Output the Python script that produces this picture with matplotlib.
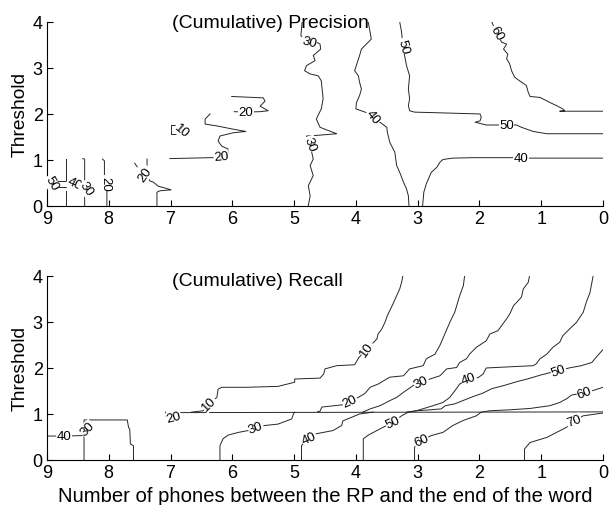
import matplotlib
matplotlib.use("Agg")
import matplotlib.pyplot as plt

plt.rcParams["font.family"] = ["Liberation Sans", "DejaVu Sans"]

# ================================
# Data: contour lines, (phones, threshold)
# ================================

X_TICKS = [9, 8, 7, 6, 5, 4, 3, 2, 1, 0]
Y_TICKS = [0, 1, 2, 3, 4]

# ---- (Cumulative) Precision ----
P_40_A = [(8.70, 1.02), (8.70, 0.54), (9.0, 0.54)]
P_40_B = [(9.0, 0.41), (8.52, 0.41)]
P_40_C = [(8.70, 0.33), (8.70, 0.0)]
P_30_A = [(8.42, 1.03), (8.39, 1.02), (8.39, 0.0)]
P_20_A = [(8.10, 1.02), (8.07, 0.98), (8.07, 0.54), (8.03, 0.40), (8.03, 0.0)]
P_20_B = [(7.38, 1.02), (7.38, 0.89), (7.41, 0.70), (7.33, 0.54), (7.28, 0.52),
          (7.20, 0.43), (7.09, 0.39), (6.99, 0.35), (7.17, 0.33), (7.22, 0.30),
          (7.22, 0.0)]
P_20_B_TAIL = [(7.58, 0.93), (7.54, 0.85)]
P_10 = [(6.86, 1.77), (6.99, 1.77), (6.99, 1.57), (6.86, 1.57)]
P_20_C = [(7.01, 1.03), (6.33, 1.05), (6.18, 1.07), (6.07, 1.16), (6.07, 1.24),
          (6.17, 1.30), (6.23, 1.41), (6.20, 1.52), (5.99, 1.59), (5.78, 1.62),
          (5.99, 1.67), (6.25, 1.74), (6.44, 1.78), (6.44, 1.89), (6.36, 2.0)]
P_20_D = [(6.01, 2.38), (5.50, 2.35), (5.47, 2.28), (5.55, 2.17), (5.42, 2.07),
          (5.55, 2.05), (5.78, 2.04), (5.97, 2.05)]
P_30 = [(4.87, 4.0), (4.89, 3.70), (4.76, 3.57), (4.64, 3.56), (4.58, 3.52),
        (4.57, 3.41), (4.69, 3.27), (4.66, 3.16), (4.80, 3.05), (4.83, 2.94),
        (4.74, 2.87), (4.61, 2.83), (4.56, 2.72), (4.53, 2.33), (4.56, 2.11),
        (4.64, 1.89), (4.58, 1.71), (4.37, 1.60), (4.31, 1.57), (4.58, 1.54),
        (4.80, 1.52), (4.74, 1.35), (4.72, 1.20), (4.69, 1.02), (4.74, 0.88),
        (4.69, 0.66), (4.77, 0.44), (4.74, 0.22), (4.77, 0.0)]
P_40 = [(3.80, 4.0), (3.77, 3.78), (3.75, 3.63), (3.83, 3.52), (3.91, 3.41),
        (3.94, 3.27), (4.02, 2.94), (3.96, 2.83), (3.94, 2.69), (3.91, 2.54),
        (3.94, 2.40), (3.99, 2.25), (4.00, 2.11), (3.85, 2.04), (3.72, 1.93),
        (3.61, 1.82), (3.50, 1.71), (3.49, 1.60), (3.45, 1.38), (3.37, 1.17),
        (3.34, 0.88), (3.29, 0.73), (3.23, 0.52), (3.18, 0.37), (3.15, 0.22),
        (3.14, 0.0)]
P_40_R = [(2.92, 0.0), (2.90, 0.30), (2.86, 0.48), (2.78, 0.73), (2.69, 0.84),
          (2.64, 0.95), (2.59, 1.01), (2.43, 1.04), (2.10, 1.05), (1.46, 1.05),
          (1.33, 1.04), (0.0, 1.04)]
P_50 = [(3.29, 4.0), (3.26, 3.78), (3.24, 3.48), (3.21, 3.26), (3.18, 3.05),
        (3.13, 2.83), (3.15, 2.54), (3.13, 2.33), (3.15, 2.18), (3.13, 2.07),
        (3.05, 2.04), (1.99, 2.0), (1.97, 1.93), (1.99, 1.85), (2.07, 1.82),
        (1.89, 1.76), (1.56, 1.76), (1.40, 1.76), (1.32, 1.71), (1.13, 1.62),
        (0.91, 1.57), (0.0, 1.57)]
P_60 = [(1.80, 4.0), (1.72, 3.76), (1.64, 3.56), (1.56, 3.52), (1.61, 3.41),
        (1.54, 3.30), (1.56, 3.20), (1.51, 3.09), (1.48, 2.94), (1.43, 2.80),
        (1.35, 2.72), (1.24, 2.62), (1.21, 2.47), (1.18, 2.38), (1.02, 2.36),
        (0.86, 2.25), (0.75, 2.18), (0.65, 2.11), (0.62, 2.07), (0.70, 2.06),
        (0.0, 2.06)]

# label text, x, y, rotation
P_LABELS = [("50", 8.93, 0.50, -60), ("40", 8.56, 0.48, -25), ("30", 8.36, 0.38, -55),
            ("20", 8.06, 0.50, -90), ("20", 7.41, 0.70, 55), ("10", 6.82, 1.64, -40),
            ("20", 6.18, 1.07, 5), ("20", 5.78, 2.04, 0), ("30", 4.76, 3.57, -15),
            ("30", 4.74, 1.35, -70), ("40", 3.72, 1.93, -50), ("50", 3.24, 3.48, -75),
            ("50", 1.56, 1.76, 0), ("40", 1.33, 1.04, 0), ("60", 1.72, 3.76, -60)]

# ---- (Cumulative) Recall ----
R_40_L = [(9.0, 0.52), (8.72, 0.52), (8.43, 0.53)]
R_30_L = [(8.40, 0.0), (8.40, 0.87), (7.70, 0.87), (7.68, 0.71), (7.66, 0.67),
          (7.65, 0.35), (7.60, 0.31), (7.60, 0.0)]
R_20_HOOK = [(6.97, 0.93), (7.08, 0.94), (7.08, 1.04)]
R_BASE = [(6.85, 1.03), (0.0, 1.045)]
R_10 = [(6.66, 1.04), (6.47, 1.07), (6.38, 1.22), (6.25, 1.36), (6.23, 1.54),
        (6.17, 1.58), (5.77, 1.58), (5.26, 1.60), (4.99, 1.69), (4.99, 1.76),
        (4.58, 1.78), (4.52, 1.87), (4.50, 1.98), (4.31, 2.05), (4.02, 2.07),
        (3.95, 2.23), (3.82, 2.41), (3.66, 2.63), (3.64, 2.74), (3.58, 2.85),
        (3.53, 2.99), (3.49, 3.14), (3.45, 3.25), (3.40, 3.39), (3.34, 3.57),
        (3.29, 3.72), (3.26, 3.86), (3.24, 4.0)]
R_20 = [(4.62, 1.05), (4.58, 1.06), (4.55, 1.15), (4.21, 1.20), (4.10, 1.28),
        (3.96, 1.36), (3.85, 1.45), (3.77, 1.58), (3.64, 1.65), (3.45, 1.80),
        (3.23, 1.83), (3.13, 1.98), (2.91, 2.05), (2.86, 2.20), (2.72, 2.30),
        (2.64, 2.49), (2.56, 2.74), (2.48, 2.99), (2.40, 3.21), (2.32, 3.57),
        (2.26, 3.79), (2.24, 4.0)]
R_30_LOW = [(6.20, 0.0), (6.20, 0.31), (6.15, 0.46), (6.07, 0.54), (5.90, 0.60),
            (5.74, 0.64), (5.62, 0.70), (5.47, 0.75), (5.26, 0.78), (5.04, 0.89),
            (5.01, 1.00), (4.99, 1.04)]
R_30 = [(3.89, 1.04), (3.77, 1.11), (3.61, 1.18), (3.45, 1.29), (3.34, 1.36),
        (3.23, 1.47), (3.07, 1.62), (2.94, 1.69), (2.80, 1.76), (2.64, 1.83),
        (2.53, 1.98), (2.37, 2.01), (2.32, 2.12), (2.21, 2.20), (2.16, 2.30),
        (2.05, 2.45), (1.97, 2.52), (1.89, 2.59), (1.83, 2.74), (1.70, 2.81),
        (1.62, 2.96), (1.56, 3.07), (1.51, 3.17), (1.45, 3.35), (1.32, 3.54),
        (1.29, 3.72), (1.21, 3.86), (1.19, 4.0)]
R_40_LOW = [(4.88, 0.0), (4.88, 0.31), (4.76, 0.48), (4.64, 0.57), (4.37, 0.64),
            (4.23, 0.75), (4.21, 0.85), (3.94, 1.00), (3.72, 1.04)]
R_40 = [(3.18, 1.04), (3.02, 1.07), (2.75, 1.18), (2.59, 1.25), (2.48, 1.36),
        (2.40, 1.50), (2.32, 1.65), (2.17, 1.76), (2.02, 1.79), (1.94, 1.87),
        (1.89, 2.00), (1.13, 2.05), (1.08, 2.09), (1.02, 2.20), (0.91, 2.30),
        (0.81, 2.45), (0.70, 2.56), (0.65, 2.70), (0.54, 2.85), (0.43, 2.99),
        (0.32, 3.21), (0.27, 3.43), (0.21, 3.64), (0.16, 4.0)]
R_50 = [(3.88, 0.0), (3.88, 0.46), (3.80, 0.54), (3.56, 0.71), (3.40, 0.82),
        (3.26, 0.96), (3.15, 1.04), (3.02, 1.07), (2.80, 1.09), (2.62, 1.11),
        (2.55, 1.18), (2.40, 1.22), (2.25, 1.30), (2.10, 1.38), (1.95, 1.45),
        (1.80, 1.55), (1.60, 1.62), (1.40, 1.70), (1.20, 1.77), (1.00, 1.85),
        (0.85, 1.90), (0.72, 1.94), (0.55, 2.0), (0.35, 2.05), (0.18, 2.12),
        (0.10, 2.25), (0.0, 2.40)]
R_60 = [(3.05, 0.0), (3.05, 0.28), (2.94, 0.42), (2.78, 0.53), (2.59, 0.60),
        (2.43, 0.75), (2.26, 0.86), (2.05, 0.96), (1.97, 1.04), (1.83, 1.07),
        (1.51, 1.09), (1.18, 1.12), (0.86, 1.18), (0.70, 1.25), (0.59, 1.33),
        (0.51, 1.41), (0.30, 1.47), (0.16, 1.51), (0.0, 1.58)]
R_70 = [(1.27, 0.0), (1.27, 0.24), (1.18, 0.38), (0.91, 0.49), (0.75, 0.60),
        (0.59, 0.71), (0.47, 0.85), (0.32, 0.96), (0.0, 1.02)]

R_LABELS = [("40", 8.72, 0.52, 0), ("30", 8.35, 0.68, 45), ("20", 6.95, 0.92, 15),
            ("10", 6.38, 1.22, 45), ("10", 3.82, 2.41, 55), ("20", 4.10, 1.28, 25),
            ("30", 5.62, 0.70, 20), ("30", 2.94, 1.69, 25), ("40", 4.76, 0.48, 25),
            ("40", 2.17, 1.76, 20), ("50", 3.40, 0.82, 25), ("50", 0.72, 1.94, 20),
            ("60", 2.94, 0.42, 25), ("60", 0.30, 1.47, 20), ("70", 0.47, 0.85, 20)]

PREC_LINES = [P_40_A, P_40_B, P_40_C, P_30_A, P_20_A, P_20_B, P_20_B_TAIL, P_10,
              P_20_C, P_20_D, P_30, P_40, P_40_R, P_50, P_60]
REC_LINES = [R_40_L, R_30_L, R_20_HOOK, R_BASE, R_10, R_20, R_30_LOW, R_30,
             R_40_LOW, R_40, R_50, R_60, R_70]


# ================================
# Helper
# ================================


def draw_panel(ax, lines, labels, title, title_x, title_y):
    for line in lines:
        xs = [p[0] for p in line]
        ys = [p[1] for p in line]
        ax.plot(xs, ys, color="0.15", lw=0.7, zorder=2)

    for txt, x, y, rot in labels:
        ax.text(x, y, txt, fontsize=9.5, rotation=rot, ha="center", va="center",
                rotation_mode="anchor", zorder=3,
                bbox=dict(fc="white", ec="none", pad=0.3))

    ax.text(title_x, title_y, title, fontsize=14, ha="center", va="center", zorder=4)

    ax.set_xlim(9, 0)
    ax.set_ylim(0, 4)
    ax.set_xticks(X_TICKS)
    ax.set_yticks(Y_TICKS)
    ax.tick_params(direction="in", length=4, width=0.8, labelsize=13, pad=3)
    ax.spines["top"].set_visible(False)
    ax.spines["right"].set_visible(False)
    ax.spines["left"].set_linewidth(0.8)
    ax.spines["bottom"].set_linewidth(0.8)
    ax.set_ylabel("Threshold", fontsize=13.8, labelpad=3)


# ================================
# Main
# ================================


def main():
    fig = plt.figure(figsize=(6.1, 5.06), dpi=100)
    ax1 = fig.add_axes([0.077, 0.591, 0.9115, 0.3636])
    ax2 = fig.add_axes([0.077, 0.089, 0.9115, 0.3636])

    draw_panel(ax1, PREC_LINES, P_LABELS, "(Cumulative) Precision", 5.38, 3.98)
    draw_panel(ax2, REC_LINES, R_LABELS, "(Cumulative) Recall", 5.59, 3.90)
    ax2.xaxis.set_label_coords(0.537, -0.14)
    ax2.set_xlabel("Number of phones between the RP and the end of the word",
                   fontsize=14.6)

    fig.savefig("out.png", dpi=100)


if __name__ == "__main__":
    main()
